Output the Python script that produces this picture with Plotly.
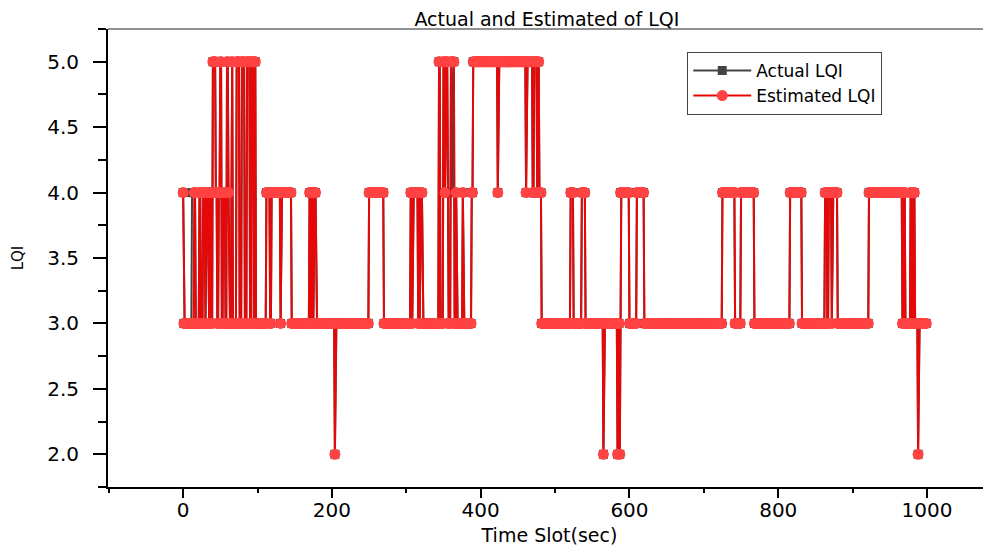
import numpy as np
import plotly.graph_objects as go

# ---- data ----
# Estimated LQI: change points (time slot where the value changes, new value)
est_change_t = [0, 1, 15, 17, 22, 24, 27, 30, 31, 34, 36, 38, 40, 44, 46, 48, 50, 52, 54, 57,
                59, 61, 62, 65, 67, 72, 76, 79, 83, 86, 90, 92, 95, 96, 98,
                112, 117, 119, 131, 132, 146,
                170, 172, 173, 175, 176, 179,
                204, 205,
                250, 270,
                306, 308, 309, 316, 317, 318, 319, 322,
                344, 346, 350, 352, 353, 356, 360, 365, 367, 368, 376, 377, 388, 390,
                423, 424, 461, 462, 470, 472, 476, 477, 479, 482,
                521, 525, 536, 541, 565, 566, 584, 585, 587, 588, 600, 610, 620,
                725, 742, 750, 768, 816, 832, 863, 866, 868, 872, 873, 880,
                922, 967, 969, 971, 978, 980, 982, 984, 988, 989]
est_change_v = [4, 3, 4, 3, 4, 3, 4, 3, 4, 3, 4, 3, 5, 4, 3, 4, 5, 3, 4, 3,
                5, 4, 3, 5, 3, 5, 3, 5, 3, 5, 3, 5, 3, 5, 3,
                4, 3, 4, 3, 4, 3,
                4, 3, 4, 3, 4, 3,
                2, 3,
                4, 3,
                4, 3, 4, 3, 4, 3, 4, 3,
                5, 3, 5, 4, 5, 3, 5, 3, 4, 3, 4, 3, 4, 5,
                4, 5, 4, 5, 4, 5, 4, 5, 4, 3,
                4, 3, 4, 3, 2, 3, 2, 3, 2, 4, 3, 4, 3,
                4, 3, 4, 3, 4, 3, 4, 3, 4, 3, 4, 3,
                4, 3, 4, 3, 4, 3, 4, 3, 2, 3]
last_slot = 999

# Actual LQI: same as estimated except at these slots
act_diff_t = [12, 13, 14, 361, 362, 586]
act_diff_v = [4, 4, 4, 4, 4, 3]

x_ticks = [0, 200, 400, 600, 800, 1000]
y_ticks = [2.0, 2.5, 3.0, 3.5, 4.0, 4.5, 5.0]

# ---- expand change points into per-slot series ----
t = np.arange(0, last_slot + 1)
idx = np.searchsorted(np.array(est_change_t), t, side="right") - 1
estimated = np.array(est_change_v, dtype=float)[idx]
actual = estimated.copy()
for tt, vv in zip(act_diff_t, act_diff_v):
    actual[tt] = vv

FONT = "DejaVu Sans"
RED_LINE = "#E60808"
RED_MARK = "#FF4242"
GRAY = "#454545"

fig = go.Figure()
fig.add_trace(go.Scatter(
    x=t, y=actual, name="Actual LQI", mode="lines+markers",
    line=dict(color=GRAY, width=2),
    marker=dict(symbol="square", size=9, color=GRAY, line=dict(width=0)),
))
fig.add_trace(go.Scatter(
    x=t, y=estimated, name="Estimated LQI", mode="lines+markers",
    line=dict(color=RED_LINE, width=2),
    marker=dict(symbol="circle", size=11, color=RED_MARK, line=dict(width=0)),
))

W, H = 983, 543  # page adds an 8px body margin
fig.update_layout(
    width=W, height=H,
    margin=dict(l=100, r=0, t=21, b=64),
    paper_bgcolor="white", plot_bgcolor="white",
    font=dict(family=FONT, color="black", size=19),
    title=dict(text="Actual and Estimated of LQI", font=dict(family=FONT, size=19, color="black"),
               x=0.497, xref="paper", xanchor="center",
               y=1 - 11 / H, yref="container", yanchor="middle"),
    showlegend=True,
    legend=dict(x=0.656, y=0.95, xanchor="left", yanchor="top",
                bgcolor="white", bordercolor="#444444", borderwidth=1,
                font=dict(family=FONT, size=17, color="black"),
                tracegroupgap=0, itemwidth=58),
    shapes=[dict(type="line", xref="paper", yref="paper", x0=0, x1=1, y0=1, y1=1,
                 line=dict(color="#222222", width=1))],
)

fig.update_xaxes(
    range=[-101, 1086], showgrid=False, zeroline=False,
    showline=True, linecolor="black", linewidth=2,
    tickmode="array", tickvals=x_ticks, ticktext=[str(v) for v in x_ticks],
    ticks="outside", ticklen=9, tickwidth=2, tickcolor="black",
    minor=dict(ticks="outside", ticklen=4, tickwidth=2, tickcolor="black", dtick=100, tick0=0),
    tickfont=dict(family=FONT, size=20), ticklabelstandoff=-5,
    title=dict(text="Time Slot(sec)", font=dict(family=FONT, size=19), standoff=8),
)
fig.update_yaxes(
    range=[1.75, 5.25], showgrid=False, zeroline=False,
    showline=True, linecolor="black", linewidth=2,
    tickmode="array", tickvals=y_ticks, ticktext=[f"{v:.1f}" for v in y_ticks],
    ticks="outside", ticklen=13, tickwidth=2, tickcolor="black",
    minor=dict(ticks="outside", ticklen=8, tickwidth=2, tickcolor="black", dtick=0.25, tick0=0),
    tickfont=dict(family=FONT, size=20), ticklabelstandoff=10,
    title=dict(text="LQI", font=dict(family=FONT, size=15), standoff=20),
)

fig.write_html("out.html")
